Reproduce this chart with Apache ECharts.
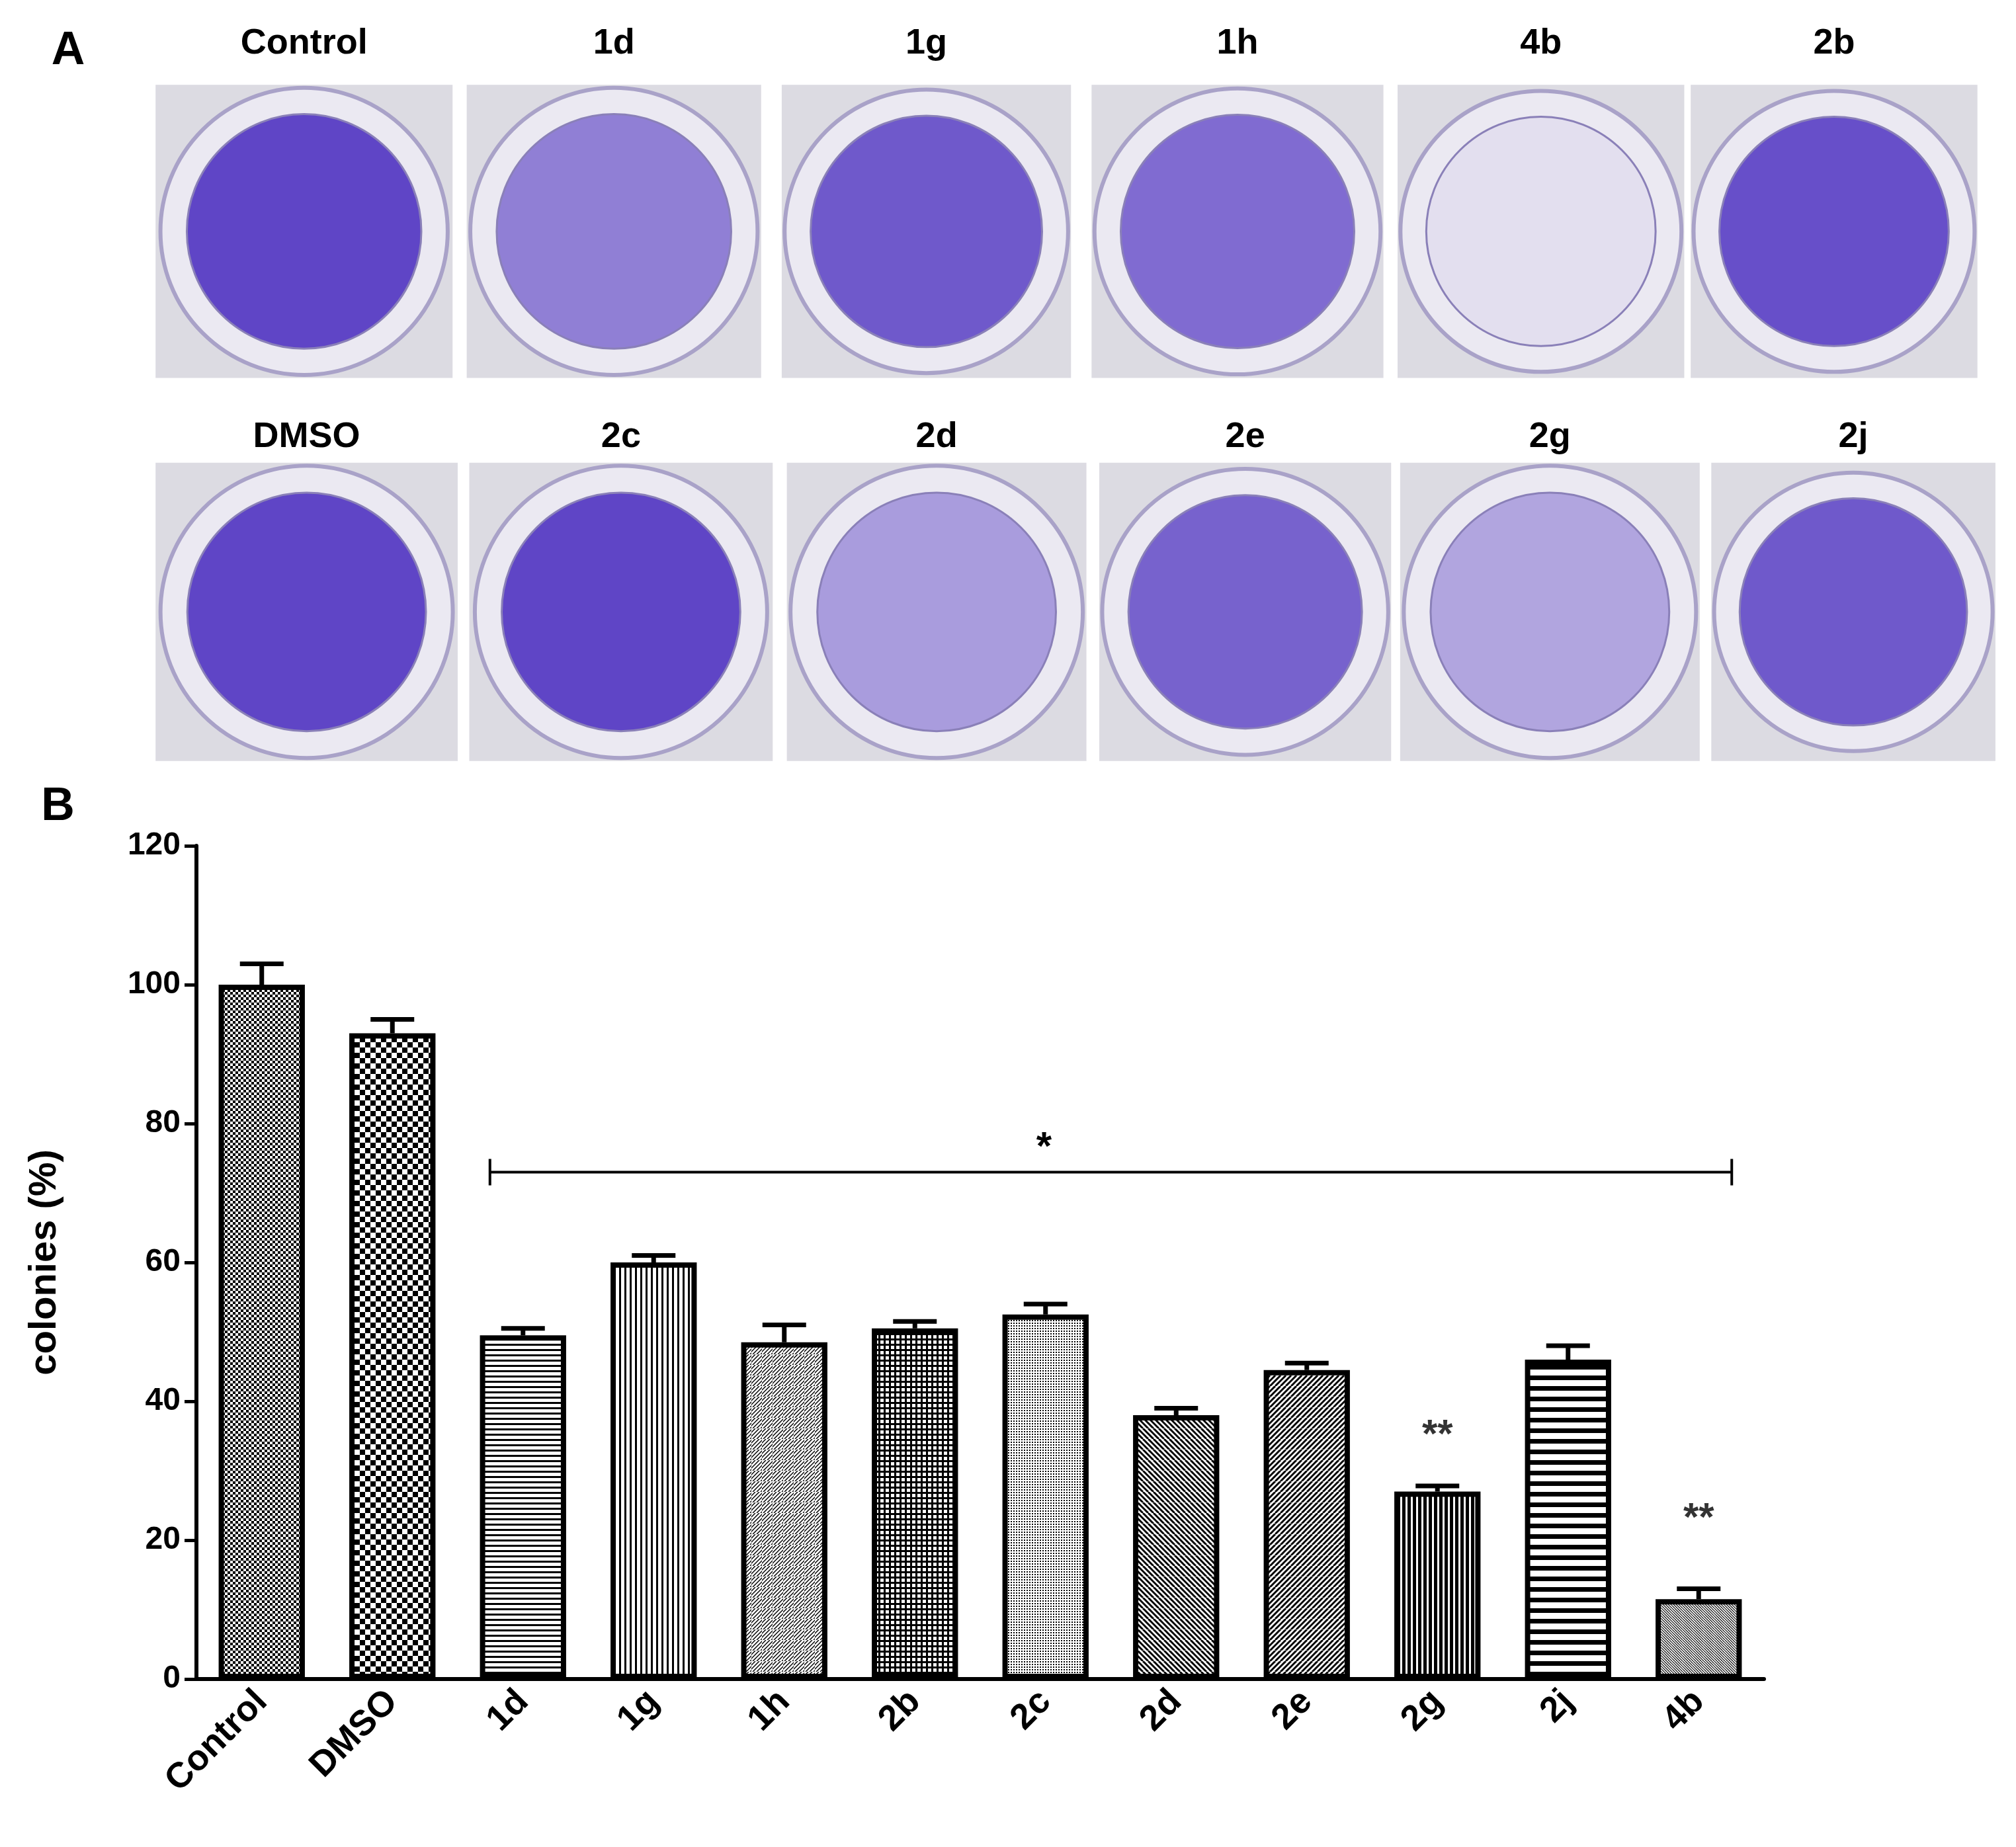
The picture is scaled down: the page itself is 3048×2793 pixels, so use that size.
<!DOCTYPE html>
<html><head><meta charset="utf-8">
<script src="https://cdn.jsdelivr.net/npm/echarts@6/dist/echarts.min.js"></script>
<style>html,body{margin:0;background:#fff}#main{width:3048px;height:2793px}</style>
</head><body><div id="main"></div>
<script>
var categories=['Control','DMSO','1d','1g','1h','2b','2c','2d','2e','2g','2j','4b'];
var values=[100,93,49.5,60,48.5,50.5,52.5,38,44.5,27,46,11.5];
var errors=[3,2,1,1,2.5,1,1.5,1,1,0.8,2,1.5];
var yTicks=[0,20,40,60,80,100,120];
var row1Labels=['Control','1d','1g','1h','4b','2b'];
var row2Labels=['DMSO','2c','2d','2e','2g','2j'];
var row1Density=[0.85,0.55,0.75,0.65,0.05,0.8];
var row2Density=[0.85,0.85,0.4,0.7,0.35,0.75];

var S=3048/1568;
// fill patterns for bars
function pat(kind){
  var c=document.createElement('canvas');c.width=c.height=16;
  var g=c.getContext('2d');g.fillStyle='#fff';g.fillRect(0,0,16,16);g.fillStyle='#000';g.strokeStyle='#000';
  if(kind=='check'){for(var i=0;i<4;i++)for(var j=0;j<4;j++)if((i+j)%2==0)g.fillRect(i*4,j*4,4,4);}
  else if(kind=='check2'){for(var i=0;i<2;i++)for(var j=0;j<2;j++)if((i+j)%2==0)g.fillRect(i*8,j*8,8,8);}
  else if(kind=='h'){g.fillRect(0,0,16,3);g.fillRect(0,8,16,3);}
  else if(kind=='v'){g.fillRect(0,0,3,16);g.fillRect(8,0,3,16);}
  else if(kind=='d1'){g.lineWidth=1.5;for(var k=-16;k<32;k+=6){g.beginPath();g.moveTo(k,16);g.lineTo(k+16,0);g.stroke();}}
  else if(kind=='grid'){g.fillRect(0,0,16,3);g.fillRect(0,8,16,3);g.fillRect(0,0,3,16);g.fillRect(8,0,3,16);}
  else if(kind=='dots'){for(var i=0;i<4;i++)for(var j=0;j<4;j++)g.fillRect(i*4,j*4,2,2);}
  else if(kind=='d2'){g.lineWidth=3;for(var k=-16;k<32;k+=8){g.beginPath();g.moveTo(k,0);g.lineTo(k+16,16);g.stroke();}}
  else if(kind=='d3'){g.lineWidth=3;for(var k=-16;k<32;k+=8){g.beginPath();g.moveTo(k,16);g.lineTo(k+16,0);g.stroke();}}
  else if(kind=='v2'){g.fillRect(0,0,5,16);g.fillRect(8,0,5,16);}
  else if(kind=='h2'){c.height=32;g=c.getContext('2d');g.fillStyle='#fff';g.fillRect(0,0,16,32);g.fillStyle='#000';g.fillRect(0,0,16,7);g.fillRect(0,16,16,7);}
  else if(kind=='d4'){g.lineWidth=1.2;for(var k=-16;k<32;k+=4){g.beginPath();g.moveTo(k,0);g.lineTo(k+16,16);g.stroke();}}
  return c;
}
var kinds=['check','check2','h','v','d1','grid','dots','d2','d3','v2','h2','d4'];

var graphics=[];
graphics.push({type:'text',left:40*S,top:22*S,style:{text:'A',font:'bold 70px Arial',fill:'#000'}});
graphics.push({type:'text',left:32*S,top:610*S,style:{text:'B',font:'bold 70px Arial',fill:'#000'}});
function plates(xs,y0,y1,labels,dens,ly){
  for(var i=0;i<xs.length;i++){
    var x0=xs[i][0]*S,x1=xs[i][1]*S,w=x1-x0,h=(y1-y0)*S,cx=x0+w/2,cy=y0*S+h/2,r=Math.min(w,h)/2;
    graphics.push({type:'rect',shape:{x:x0,y:y0*S,width:w,height:h},style:{fill:'#dcdbe2'}});
    graphics.push({type:'circle',shape:{cx:cx,cy:cy,r:r*0.98},style:{fill:'#ebe9f2',stroke:'#a9a2c8',lineWidth:6}});
    graphics.push({type:'circle',shape:{cx:cx,cy:cy,r:r*0.8},style:{fill:'rgba(70,40,190,'+dens[i]+')',stroke:'#8a80b8',lineWidth:3}});
    graphics.push({type:'text',x:cx,y:ly*S,style:{text:labels[i],font:'bold 54px Arial',fill:'#000',textAlign:'center',textVerticalAlign:'middle'}});
  }
}
plates([[121,352],[363,592],[608,833],[849,1076],[1087,1310],[1315,1538]],66,294,row1Labels,row1Density,34);
plates([[121,356],[365,601],[612,845],[855,1082],[1089,1322],[1331,1552]],360,592,row2Labels,row2Density,340);

var chart=echarts.init(document.getElementById('main'));
chart.setOption({
  backgroundColor:'#fff',
  animation:false,
  grid:{left:297,top:1279,width:2370,height:1260},
  xAxis:{type:'category',data:categories,
    axisLine:{lineStyle:{color:'#000',width:6}},axisTick:{alignWithLabel:true,length:18,lineStyle:{width:5,color:'#000'}},
    axisLabel:{rotate:45,margin:26,color:'#000',fontSize:54,fontWeight:'bold',fontFamily:'Arial'}},
  yAxis:{type:'value',min:0,max:120,interval:20,
    name:'colonies (%)',nameLocation:'middle',nameGap:200,
    nameTextStyle:{color:'#000',fontSize:58,fontWeight:'bold',fontFamily:'Arial'},
    axisLine:{show:true,lineStyle:{color:'#000',width:6}},axisTick:{show:true,length:18,lineStyle:{width:5,color:'#000'}},
    splitLine:{show:false},
    axisLabel:{margin:24,color:'#000',fontSize:48,fontWeight:'bold',fontFamily:'Arial',formatter:function(v){return yTicks.indexOf(v)>=0?v:'';}}},
  series:[
    {type:'bar',barWidth:'66%',z:3,
     data:values.map(function(v,i){return {value:v,itemStyle:{color:{image:pat(kinds[i]),repeat:'repeat'},borderColor:'#000',borderWidth:8}};})},
    {type:'custom',z:4,data:values.map(function(v,i){return [i,v,v+errors[i]];}),
     renderItem:function(p,api){
       var a=api.coord([api.value(0),api.value(1)]),b=api.coord([api.value(0),api.value(2)]);
       return {type:'group',children:[
         {type:'line',shape:{x1:a[0],y1:a[1],x2:b[0],y2:b[1]},style:{stroke:'#000',lineWidth:7}},
         {type:'line',shape:{x1:b[0]-33,y1:b[1],x2:b[0]+33,y2:b[1]},style:{stroke:'#000',lineWidth:7}}]};
     }},
    {type:'scatter',symbolSize:0,z:5,
     data:[[ '2g',35],['4b',23]],
     label:{show:true,formatter:'**',color:'#000',fontSize:60,fontWeight:'bold',position:'inside'}}
  ],
  graphic:graphics
});
// significance bracket
var pA=chart.convertToPixel({seriesIndex:0},['1d',73]);
var pB=chart.convertToPixel({seriesIndex:0},['4b',73]);
var lx=pA[0]-50,rx=pB[0]+50,ly=pA[1];
graphics.push({type:'line',shape:{x1:lx,y1:ly,x2:rx,y2:ly},style:{stroke:'#000',lineWidth:4}});
graphics.push({type:'line',shape:{x1:lx,y1:ly-20,x2:lx,y2:ly+20},style:{stroke:'#000',lineWidth:4}});
graphics.push({type:'line',shape:{x1:rx,y1:ly-20,x2:rx,y2:ly+20},style:{stroke:'#000',lineWidth:4}});
graphics.push({type:'text',x:812*S,y:ly-36,style:{text:'*',font:'bold 60px Arial',fill:'#000',textAlign:'center',textVerticalAlign:'middle'}});
chart.setOption({graphic:graphics});
</script>
</body></html>
